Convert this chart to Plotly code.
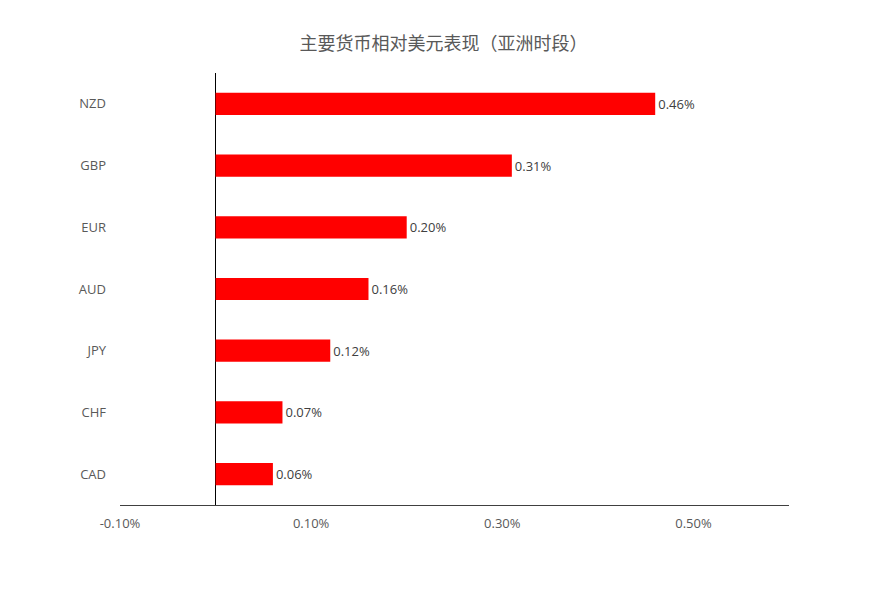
import plotly.graph_objects as go

currencies = ["CAD", "CHF", "JPY", "AUD", "EUR", "GBP", "NZD"]
changes = [0.06, 0.07, 0.12, 0.16, 0.20, 0.31, 0.46]
tick_vals = [-0.10, 0.10, 0.30, 0.50]
tick_text = ["-0.10%", "0.10%", "0.30%", "0.50%"]

fig = go.Figure()
fig.add_bar(
    x=changes,
    y=currencies,
    orientation="h",
    marker=dict(color="#ff0000", line=dict(width=0)),
    width=0.36,
    text=[f"{v:.2f}%" for v in changes],
    textposition="outside",
    textfont=dict(size=13, color="#404040"),
    cliponaxis=False,
)

fig.update_layout(
    width=871,
    height=591,
    plot_bgcolor="white",
    paper_bgcolor="white",
    font=dict(family="Open Sans, Noto Sans CJK SC, sans-serif", color="#595959"),
    title=dict(
        text="主要货币相对美元表现（亚洲时段）",
        x=0.5,
        xanchor="center",
        y=0.939,
        yanchor="middle",
        font=dict(size=18, color="#595959", family="Noto Sans CJK SC, sans-serif"),
    ),
    margin=dict(l=112, r=90, t=65, b=94),
    showlegend=False,
    bargap=0.64,
)
fig.update_xaxes(
    range=[-0.1, 0.6],
    tickvals=tick_vals,
    ticktext=tick_text,
    tickfont=dict(size=13, color="#595959"),
    showgrid=False,
    zeroline=True,
    zerolinecolor="black",
    zerolinewidth=1,
    showline=True,
    linecolor="#404040",
    linewidth=1,
    ticks="",
    ticklabelstandoff=6,
)
fig.update_yaxes(
    tickfont=dict(size=13, color="#595959"),
    showgrid=False,
    zeroline=False,
    showline=False,
    ticks="",
    ticklabelstandoff=13,
)

fig.write_html("out.html")
